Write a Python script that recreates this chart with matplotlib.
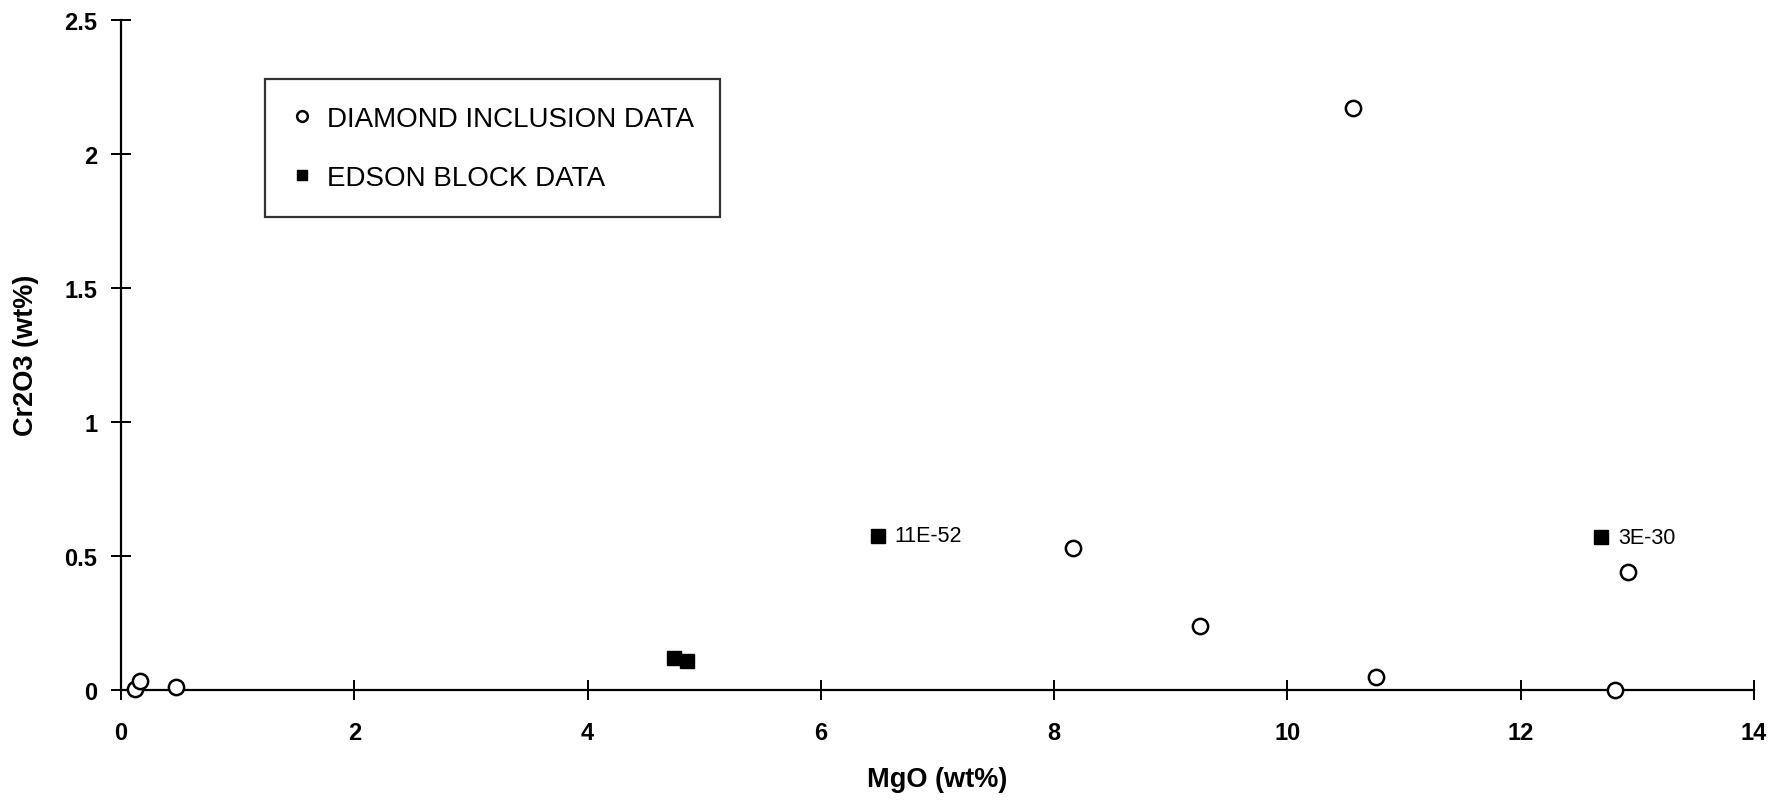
import matplotlib.pyplot as plt

plt.rcParams['font.family'] = ['Liberation Sans', 'DejaVu Sans']

# diamond inclusion data (MgO, Cr2O3 wt%)
diamond_mgo = [0.12, 0.16, 0.47, 8.16, 9.25, 10.56, 10.76, 12.81, 12.92]
diamond_cr = [0.005, 0.035, 0.012, 0.528, 0.24, 2.17, 0.048, 0.0, 0.44]

# Edson block data
edson_mgo = [4.74, 4.85, 6.49, 12.69]
edson_cr = [0.12, 0.108, 0.575, 0.57]
edson_names = ['', '', '11E-52', '3E-30']

fig = plt.figure(figsize=(17.92, 8.04), dpi=100)
ax = fig.add_axes([0.0675, 0.1405, 0.9113, 0.834])

ax.plot(diamond_mgo, diamond_cr, 'o', mfc='white', mec='black', mew=1.8,
        ms=11, linestyle='none', label='DIAMOND INCLUSION DATA', zorder=3,
        clip_on=False)
ax.plot(edson_mgo, edson_cr, 's', color='black', ms=10, linestyle='none',
        label='EDSON BLOCK DATA', zorder=3, clip_on=False)

for x, y, name in zip(edson_mgo, edson_cr, edson_names):
    if name:
        ax.annotate(name, (x, y), xytext=(12, 0), textcoords='offset points',
                    va='center', ha='left', fontsize=15.5)

ax.set_xlim(0, 14)
ax.set_ylim(0, 2.5)
ax.set_xticks(range(0, 15, 2))
ax.set_yticks([0, 0.5, 1, 1.5, 2, 2.5])
ax.set_yticklabels(['0', '0.5', '1', '1.5', '2', '2.5'])

for s in ['top', 'right']:
    ax.spines[s].set_visible(False)
for s in ['left', 'bottom']:
    ax.spines[s].set_linewidth(1.6)

ax.tick_params(direction='inout', length=14, width=1.4, labelsize=17)
ax.tick_params(axis='x', pad=15)
ax.tick_params(axis='y', pad=10)
for lbl in ax.get_xticklabels() + ax.get_yticklabels():
    lbl.set_fontweight('bold')

ax.set_xlabel('MgO (wt%)', fontsize=19.5, fontweight='bold', labelpad=16)
ax.set_ylabel('Cr2O3 (wt%)', fontsize=19.5, fontweight='bold', labelpad=18)

leg = ax.legend(loc='upper left', bbox_to_anchor=(0.0885, 0.911), frameon=True,
                fancybox=False, edgecolor='black', fontsize=20, handletextpad=0.55,
                borderpad=0.95, labelspacing=1.2, markerscale=0.7,
                handlelength=0.7, borderaxespad=0)
leg.get_frame().set_linewidth(1.6)

fig.savefig('out.png', dpi=100)
